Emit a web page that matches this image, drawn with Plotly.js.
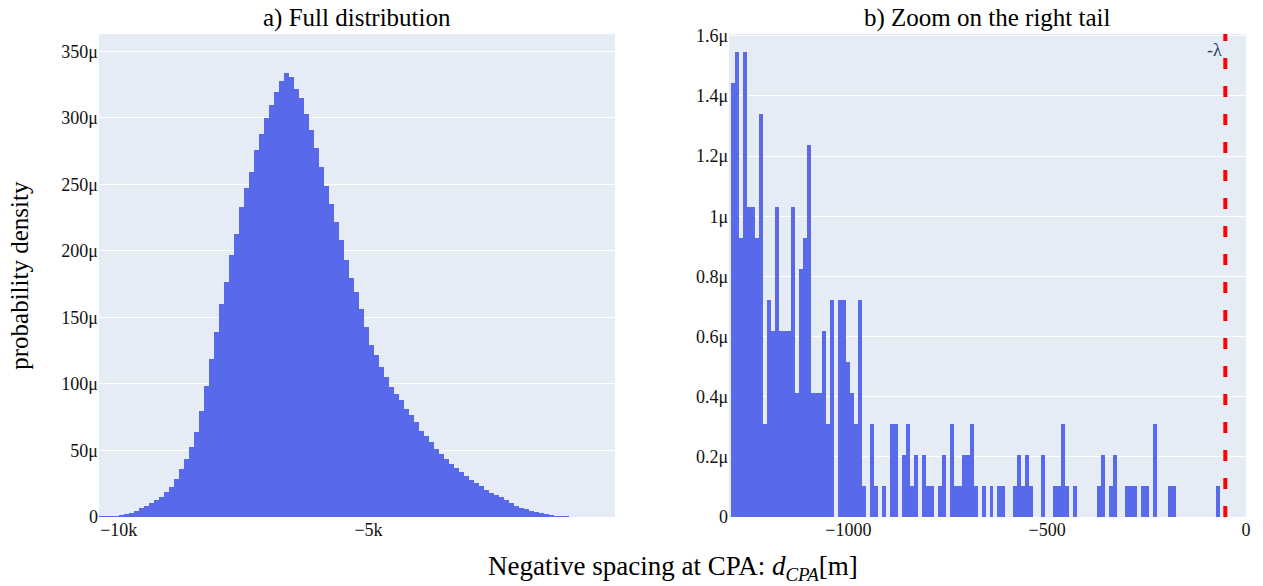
<!DOCTYPE html>
<html>
<head>
<meta charset="utf-8">
<script src="https://cdn.plot.ly/plotly-3.0.1.min.js"></script>
<style>html,body{margin:0;padding:0;background:#fff;}#chart{width:1263px;height:586px;}</style>
</head>
<body>
<div id="chart"></div>
<script>
// ---- Data (densities in units of 1e-6) ----
// a) Full distribution: 100 m bins starting at -10395 m
const fullBinStart = -10395;
const fullBinWidth = 100;
const fullDensity = [
  0.5, 0.6, 0.8, 1.0, 1.3, 2.0, 2.8, 4.8, 6.8, 8.5,
  10.3, 12.8, 15.3, 18.6, 22.3, 28.6, 36, 43.7, 52.4, 63.7,
  80, 98.8, 119, 139, 160, 176.6, 196.7, 213, 233, 247,
  259, 276, 288, 299.6, 309.6, 319.7, 328, 333.5, 331, 322,
  314.6, 303, 291, 277, 263, 249, 235.6, 221.8, 208, 193,
  180, 169, 156.6, 142.8, 129, 121.4, 112.7, 105, 97.6, 92.6,
  87.6, 81.3, 76.3, 71.3, 65, 61.2, 56.2, 51.2, 47.4, 43.7,
  39.9, 36.9, 33.6, 31.1, 27.9, 25.3, 23.1, 20.3, 18.3, 16.6,
  14.8, 12.5, 10.3, 8.3, 7.0, 5.8, 4.8, 3.8, 3.0, 2.5,
  1.8, 1.08, 0.79, 0.48, 0.21, 0.18, 0.13, 0.08, 0.09, 0.07,
  0.07, 0.07, 0.02, 0.01
];
// b) Zoom on the right tail: 10 m bins starting at -1295 m
const tailBinStart = -1295;
const tailBinWidth = 10;
const tailDensity = [
  1.442, 1.545, 0.927, 1.545, 1.03, 1.03, 0.927, 1.339, 0.309, 0.721,
  0.618, 1.03, 0.618, 0.618, 0.618, 1.03, 0.412, 0.824, 0.927, 1.236,
  0.412, 0.412, 0.412, 0.618, 0.309, 0.721, 0, 0.721, 0.721, 0.515,
  0.412, 0.309, 0.721, 0.103, 0, 0.309, 0.103, 0, 0.103, 0,
  0.309, 0.309, 0, 0.206, 0.309, 0.103, 0.206, 0, 0.206, 0.103,
  0.103, 0, 0.103, 0.206, 0, 0.309, 0.103, 0.103, 0.206, 0.206,
  0.309, 0.103, 0, 0.103, 0, 0.103, 0, 0.103, 0.103, 0,
  0, 0.103, 0.206, 0.103, 0.206, 0.103, 0, 0, 0.206, 0,
  0, 0.103, 0.103, 0.309, 0.103, 0, 0.103, 0, 0, 0,
  0, 0, 0.103, 0.206, 0, 0.103, 0.206, 0, 0, 0.103,
  0.103, 0.103, 0, 0.103, 0.103, 0, 0.309, 0, 0, 0,
  0.103, 0.103, 0, 0, 0, 0, 0, 0, 0, 0,
  0, 0, 0.103
];
const minusLambda = -52;
const lambdaLabel = "-λ";
const titles = ["a) Full distribution", "b) Zoom on the right tail"];
const yTitle = "probability density";
const xTitle = "Negative spacing at CPA: <i>d</i><sub><i>CPA</i></sub>[m]";

const MICRO = 1e-6;
const BAR = '#5869e9';
const SERIF = 'Liberation Serif, Times New Roman, serif';

const traces = [
  {
    type: 'bar', x0: fullBinStart + fullBinWidth / 2, dx: fullBinWidth,
    y: fullDensity.map(v => v * MICRO),
    marker: {color: BAR, line: {width: 0}},
    xaxis: 'x', yaxis: 'y', showlegend: false, hoverinfo: 'x+y'
  },
  {
    type: 'bar', x0: tailBinStart + tailBinWidth / 2, dx: tailBinWidth,
    y: tailDensity.map(v => v * MICRO),
    marker: {color: BAR, line: {width: 0}},
    xaxis: 'x2', yaxis: 'y2', showlegend: false, hoverinfo: 'x+y'
  }
];

const tickfont = {family: SERIF, size: 18, color: '#111'};
const layout = {
  width: 1263, height: 586,
  margin: {l: 99, r: 17, t: 34, b: 69},
  paper_bgcolor: '#ffffff',
  plot_bgcolor: '#E5ECF6',
  bargap: 0,
  showlegend: false,
  font: {family: SERIF, color: '#111'},
  xaxis: {domain: [0, 0.4499], range: [-10395, -65], dtick: 5000, tick0: 0,
          showgrid: false, zeroline: false, ticks: '', tickfont: tickfont, anchor: 'y'},
  yaxis: {domain: [0, 1], range: [0, 363e-6], dtick: 50e-6, tick0: 0,
          gridcolor: '#ffffff', gridwidth: 1, zeroline: false, ticks: '', tickfont: tickfont, anchor: 'x'},
  xaxis2: {domain: [0.5493, 1], range: [-1300, 0], dtick: 500, tick0: 0,
           showgrid: false, zeroline: false, ticks: '', tickfont: tickfont, anchor: 'y2'},
  yaxis2: {domain: [0, 1], range: [0, 1.606e-6], dtick: 0.2e-6, tick0: 0,
           gridcolor: '#ffffff', gridwidth: 1, zeroline: false, ticks: '', tickfont: tickfont, anchor: 'x2'},
  shapes: [
    {type: 'line', xref: 'x2', yref: 'y2 domain', x0: minusLambda, x1: minusLambda, y0: 0, y1: 1,
     line: {color: '#ff0000', width: 4, dash: '11px,17px'}}
  ],
  annotations: [
    {text: titles[0], xref: 'paper', yref: 'paper', x: 0.22495, y: 1, xanchor: 'center', yanchor: 'bottom',
     yshift: 0, showarrow: false, font: {family: SERIF, size: 25, color: '#000'}},
    {text: titles[1], xref: 'paper', yref: 'paper', x: 0.77465, y: 1, xanchor: 'center', yanchor: 'bottom',
     yshift: 0, showarrow: false, font: {family: SERIF, size: 25, color: '#000'}},
    {text: yTitle, xref: 'paper', yref: 'paper', x: -0.0695, y: 0.5, xanchor: 'center', yanchor: 'middle',
     textangle: -90, showarrow: false, font: {family: SERIF, size: 25, color: '#000'}},
    {text: xTitle, xref: 'paper', yref: 'paper', x: 0.5, y: -0.1056, xanchor: 'center', yanchor: 'middle',
     showarrow: false, font: {family: SERIF, size: 27, color: '#000'}},
    {text: lambdaLabel, xref: 'x2', yref: 'y2 domain', x: minusLambda, y: 1, xanchor: 'right', yanchor: 'top',
     xshift: -1, yshift: -4, showarrow: false, font: {family: SERIF, size: 18, color: '#2a3f5f'}}
  ]
};

Plotly.newPlot('chart', traces, layout, {displayModeBar: false, staticPlot: true});
</script>
</body>
</html>
